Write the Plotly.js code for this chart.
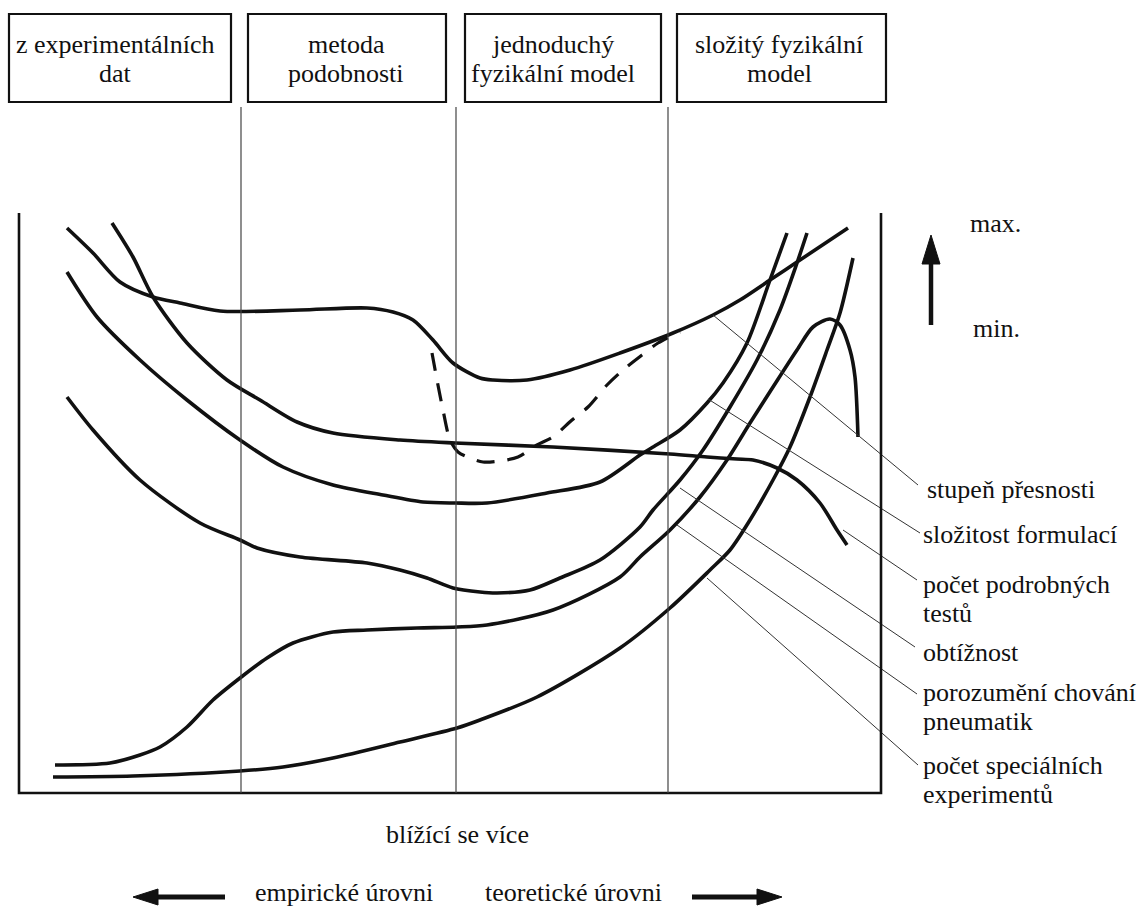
<!DOCTYPE html>
<html>
<head>
<meta charset="utf-8">
<script src="https://cdn.plot.ly/plotly-3.0.1.min.js"></script>
<style>
  html, body { margin: 0; padding: 0; background: #fff; }
  #chart { width: 1144px; height: 906px; }
</style>
</head>
<body>
<div id="chart"></div>
<script>
// ---- Data (page pixel units: x to the right, y downward) ----
const boxLabels = [["z experimentálních", "dat"], ["metoda", "podobnosti"], ["jednoduchý", "fyzikální model"], ["složitý fyzikální", "model"]];
const boxLeft  = [9, 248, 465, 677];
const boxRight = [231, 446, 661, 886];
const boxTextX = [115, 346, 553, 779];
const dividerX = [241, 456, 668];

// stupeň přesnosti (solid)
const accX = [67, 93, 120, 153, 180, 220, 300, 367, 393, 413, 433, 453, 480, 493, 527, 570, 620, 673, 713, 740, 770, 797, 848];
const accY = [228, 253, 282, 297, 303, 311, 310, 308, 312, 320, 340, 363, 378, 380, 380, 370, 353, 333, 315, 300, 280, 262, 228];
// stupeň přesnosti (dashed branch)
const accDashX = [432, 437, 443, 450, 458, 470, 483, 500, 518, 537, 553, 572, 588, 607, 623, 642, 658, 680];
const accDashY = [353, 380, 410, 440, 452, 458, 462, 461, 457, 445, 437, 420, 407, 385, 370, 355, 343, 332];
// počet podrobných testů
const testX = [112, 133, 153, 187, 227, 260, 297, 333, 400, 455, 553, 670, 707, 737, 753, 777, 797, 820, 837, 847];
const testY = [223, 257, 297, 343, 380, 400, 422, 433, 440, 443, 447, 454, 457, 459, 460, 468, 480, 503, 530, 545];
// složitost formulací
const complX = [67, 97, 140, 187, 240, 283, 333, 383, 423, 455, 487, 547, 600, 640, 653, 680, 707, 723, 747, 770, 787];
const complY = [272, 317, 360, 400, 440, 467, 485, 495, 502, 503, 503, 493, 482, 455, 447, 430, 403, 383, 343, 280, 233];
// obtížnost
const diffX = [67, 93, 140, 200, 240, 257, 300, 367, 400, 427, 453, 480, 497, 530, 560, 600, 640, 653, 680, 703, 730, 757, 780, 797, 807];
const diffY = [397, 430, 480, 523, 540, 548, 557, 563, 570, 578, 588, 592, 593, 590, 578, 560, 527, 510, 480, 450, 407, 360, 310, 263, 233];
// porozumění chování pneumatik
const undX = [55, 110, 140, 160, 187, 213, 240, 267, 293, 333, 367, 417, 457, 487, 553, 620, 640, 670, 700, 727, 750, 773, 797, 813, 830, 840, 850, 855, 858];
const undY = [765, 763, 755, 747, 727, 700, 678, 658, 643, 632, 630, 628, 627, 625, 610, 577, 557, 530, 497, 460, 423, 387, 350, 327, 319, 325, 350, 377, 437];
// počet speciálních experimentů
const expX = [53, 133, 240, 283, 333, 400, 457, 480, 537, 620, 670, 710, 730, 750, 773, 790, 810, 827, 840, 853];
const expY = [777, 776, 771, 767, 758, 742, 728, 720, 697, 648, 608, 570, 550, 520, 480, 447, 397, 350, 313, 258];

// labels on the right and their leader lines
const rightLabels = [["stupeň přesnosti"], ["složitost formulací"], ["počet podrobných", "testů"], ["obtížnost"], ["porozumění chování", "pneumatik"], ["počet speciálních", "experimentů"]];
const rightLabelX = [925, 921, 921, 921, 921, 921];
const rightLabelY = [489, 534, 584, 652, 692, 765];
const leaderStartX = [713, 708, 843, 680, 677, 707];
const leaderStartY = [315, 399, 530, 488, 525, 578];
const leaderEndX   = [918, 920, 917, 915, 917, 918];
const leaderEndY   = [485, 533, 580, 647, 694, 765];

const scaleLabels = ["max.", "min."];
const bottomTitle = "blížící se více";
const bottomLeft = "empirické úrovni";
const bottomRight = "teoretické úrovni";

// ---- Drawing ----
const FONT = '"Liberation Serif", "Times New Roman", "DejaVu Serif", serif';
const INK = "#111";
const traces = [];
function curve(x, y, dash, w) {
  traces.push({x: x, y: y, type: "scatter", mode: "lines", hoverinfo: "skip",
    line: {color: INK, width: w || 3.6, shape: "spline", smoothing: 0.8, dash: dash || "solid"}});
}
curve(accX, accY);
curve(accDashX, accDashY, "18px,13px", 3.2);
curve(testX, testY);
curve(complX, complY);
curve(diffX, diffY);
curve(undX, undY);
curve(expX, expY);
for (let i = 0; i < leaderStartX.length; i++) {
  traces.push({x: [leaderStartX[i], leaderEndX[i]], y: [leaderStartY[i], leaderEndY[i]], type: "scatter", mode: "lines",
    hoverinfo: "skip", line: {color: "#333", width: 1}});
}

const shapes = [];
// frame (left, bottom, right)
shapes.push({type: "path", path: "M 19 213 L 19 793 L 881 793 L 881 213", line: {color: INK, width: 2.6}, xref: "x", yref: "y"});
// dividers
dividerX.forEach(function (x) {
  shapes.push({type: "line", x0: x, x1: x, y0: 107, y1: 793, xref: "x", yref: "y", line: {color: "#444", width: 1.2}});
});
// boxes
for (let i = 0; i < boxLeft.length; i++) {
  shapes.push({type: "rect", x0: boxLeft[i], x1: boxRight[i], y0: 14, y1: 102, xref: "x", yref: "y", line: {color: INK, width: 2.2}});
}
// vertical arrow max/min
shapes.push({type: "line", x0: 931, x1: 931, y0: 325, y1: 258, xref: "x", yref: "y", line: {color: INK, width: 4.5}});
shapes.push({type: "path", path: "M 922 264 L 931 235 L 940 264 Z", fillcolor: INK, line: {color: INK, width: 1}, xref: "x", yref: "y"});
// bottom arrows
shapes.push({type: "line", x0: 152, x1: 225, y0: 897, y1: 897, xref: "x", yref: "y", line: {color: INK, width: 5}});
shapes.push({type: "path", path: "M 133 897 L 158 889 L 158 905 Z", fillcolor: INK, line: {color: INK, width: 1}, xref: "x", yref: "y"});
shapes.push({type: "line", x0: 692, x1: 762, y0: 897, y1: 897, xref: "x", yref: "y", line: {color: INK, width: 5}});
shapes.push({type: "path", path: "M 782 897 L 757 889 L 757 905 Z", fillcolor: INK, line: {color: INK, width: 1}, xref: "x", yref: "y"});

const annotations = [];
function txt(t, x, y, anchor) {
  annotations.push({text: t, x: x, y: y, xref: "x", yref: "y", showarrow: false,
    xanchor: anchor || "center", yanchor: "middle", font: {family: FONT, size: 26, color: INK}});
}
for (let i = 0; i < boxLabels.length; i++) {
  txt(boxLabels[i][0], boxTextX[i], 44);
  txt(boxLabels[i][1], boxTextX[i], 73);
}
for (let i = 0; i < rightLabels.length; i++) {
  rightLabels[i].forEach(function (line, j) {
    txt(line, rightLabelX[i], rightLabelY[i] + j * 29, "left");
  });
}
txt(scaleLabels[0], 995, 223);
txt(scaleLabels[1], 996, 328);
txt(bottomTitle, 457, 834);
txt(bottomLeft, 344, 892);
txt(bottomRight, 573, 892);

const layout = {
  width: 1144, height: 906,
  margin: {l: 0, r: 0, t: 0, b: 0, pad: 0},
  paper_bgcolor: "#fff", plot_bgcolor: "#fff",
  font: {family: FONT, size: 26, color: INK},
  showlegend: false,
  xaxis: {range: [0, 1144], visible: false, fixedrange: true},
  yaxis: {range: [906, 0], visible: false, fixedrange: true},
  shapes: shapes,
  annotations: annotations
};
Plotly.newPlot("chart", traces, layout, {staticPlot: true, displayModeBar: false});
</script>
</body>
</html>
